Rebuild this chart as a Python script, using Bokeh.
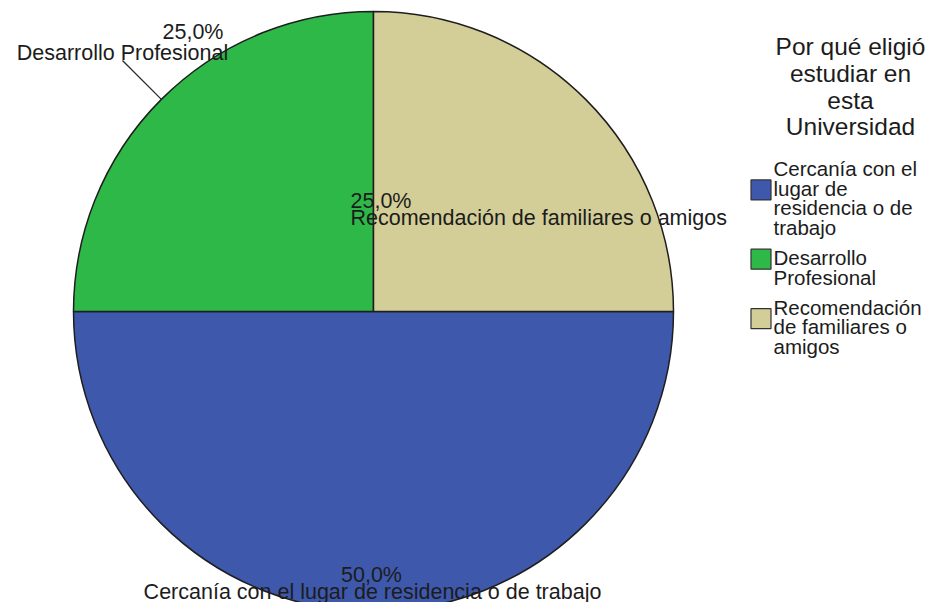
import math
from bokeh.plotting import figure
from bokeh.models import Range1d, ColumnDataSource
from bokeh.embed import file_html
from bokeh.resources import INLINE
from bokeh.core.properties import value

# ---- data ----
categories = ["Cercanía con el lugar de residencia o de trabajo",
              "Desarrollo Profesional",
              "Recomendación de familiares o amigos"]
percentages = [50.0, 25.0, 25.0]
pct_labels = ["50,0%", "25,0%", "25,0%"]
legend_lines = [["Cercanía con el", "lugar de", "residencia o de", "trabajo"],
                ["Desarrollo", "Profesional"],
                ["Recomendación", "de familiares o", "amigos"]]
legend_title_lines = ["Por qué eligió", "estudiar en", "esta", "Universidad"]
colors = ["#3E58AC", "#2EB848", "#D3CE97"]

FONT = value("Liberation Sans")
TXT = "#1c1c1c"
W, H = 926, 602
cx, cy, R = 373, 291, 300

p = figure(width=W, height=H, x_range=Range1d(0, W), y_range=Range1d(0, H),
           output_backend="svg", toolbar_location=None, min_border=0,
           x_axis_location=None, y_axis_location=None)
p.outline_line_color = None
p.grid.visible = False
p.background_fill_color = "white"
p.border_fill_color = "white"

# ---- pie ----
total = sum(percentages)
starts, ends, mids = [], [], []
cum = 0.0
for v in percentages:
    s = -2 * math.pi * cum / total
    cum += v
    e = -2 * math.pi * cum / total
    starts.append(s); ends.append(e); mids.append((s + e) / 2)
src = ColumnDataSource(dict(start=starts, end=ends, color=colors))
p.wedge(x=cx, y=cy, radius=R, start_angle="start", end_angle="end", direction="clock",
        fill_color="color", line_color="#1e1e1e", line_width=1.5, source=src)

LBL = "21.5px"
# ---- slice labels ----
# Desarrollo Profesional: outside with leader line
m = mids[1]
ex, ey = cx + (R + 55) * math.cos(m), cy + (R + 55) * math.sin(m)
p.line(x=[cx + R * math.cos(m), ex], y=[cy + R * math.sin(m), ey], line_color="#2a2a2a", line_width=1.3)
p.text(x=[ex], y=[ey + 7], text=[categories[1]], text_align="center", text_baseline="alphabetic",
       text_font=FONT, text_font_size=LBL, text_color=TXT)
p.text(x=[ex + 101], y=[ey + 28], text=[pct_labels[1]], text_align="right", text_baseline="alphabetic",
       text_font=FONT, text_font_size=LBL, text_color=TXT)

# Recomendación: inside, left aligned
p.text(x=[cx - 23, cx - 23], y=[cy + 111, cy + 94], text=[pct_labels[2], categories[2]],
       text_align="left", text_baseline="alphabetic",
       text_font=FONT, text_font_size=LBL, text_color=TXT)

# Cercanía: bottom, centered
p.text(x=[cx - 2, cx - 1], y=[cy - 263, cy - 280], text=[pct_labels[0], categories[0]],
       text_align="center", text_baseline="alphabetic",
       text_font=FONT, text_font_size=LBL, text_color=TXT)

# ---- legend ----
tx, ty0, tstep = 850, H - 46, 26.8
p.text(x=[tx] * len(legend_title_lines), y=[ty0 - i * tstep for i in range(len(legend_title_lines))],
       text=legend_title_lines, text_align="center", text_baseline="alphabetic",
       text_font=FONT, text_font_size="24.5px", text_color=TXT)

lx, sq_x = 773, 760.5
line_step, entry_gap = 19.6, 10.5
y = H - 168
lxs, lys, ltxt = [], [], []
sq_y = []
for lines in legend_lines:
    ys = []
    for ln in lines:
        lxs.append(lx); lys.append(y); ltxt.append(ln); ys.append(y)
        y -= line_step
    y -= entry_gap
    sq_y.append((ys[0] + ys[-1]) / 2 + 8)
p.text(x=lxs, y=lys, text=ltxt, text_align="left", text_baseline="alphabetic",
       text_font=FONT, text_font_size="20.5px", text_color=TXT)
p.rect(x=[sq_x] * 3, y=sq_y, width=20, height=20, fill_color=colors,
       line_color="#333333", line_width=1.2)

open("out.html", "w").write(file_html(p, INLINE))
